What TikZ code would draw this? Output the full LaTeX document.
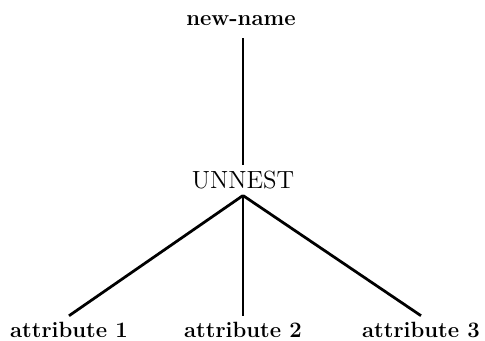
\documentclass[tikz,border=0pt]{standalone}
\usepackage{tikz}
\usetikzlibrary{positioning}

\begin{document}
\begin{tikzpicture}[x=0.0191cm,y=-0.0191cm,
        lbl/.style={font=\large\bfseries},
        op/.style={font=\fontsize{13.5}{16}\selectfont},
        edge/.style={line width=1.5pt}]
        \useasboundingbox (0,0) rectangle (485,341);

        \node[lbl] (newname) at (241,21) {new-name};
        \node[op] (unnest) at (243,180) {UNNEST};
        \node[lbl] (attr1) at (69,330) {attribute 1};
        \node[lbl] (attr2) at (243,330) {attribute 2};
        \node[lbl] (attr3) at (421,330) {attribute 3};

        \draw[edge,shorten <=3pt] (newname.south -| unnest) -- (unnest.north);
        \foreach \a in {attr1,attr2,attr3} {
            \draw[edge] (unnest.south) -- (\a.north);
        }
\end{tikzpicture}
\end{document}
